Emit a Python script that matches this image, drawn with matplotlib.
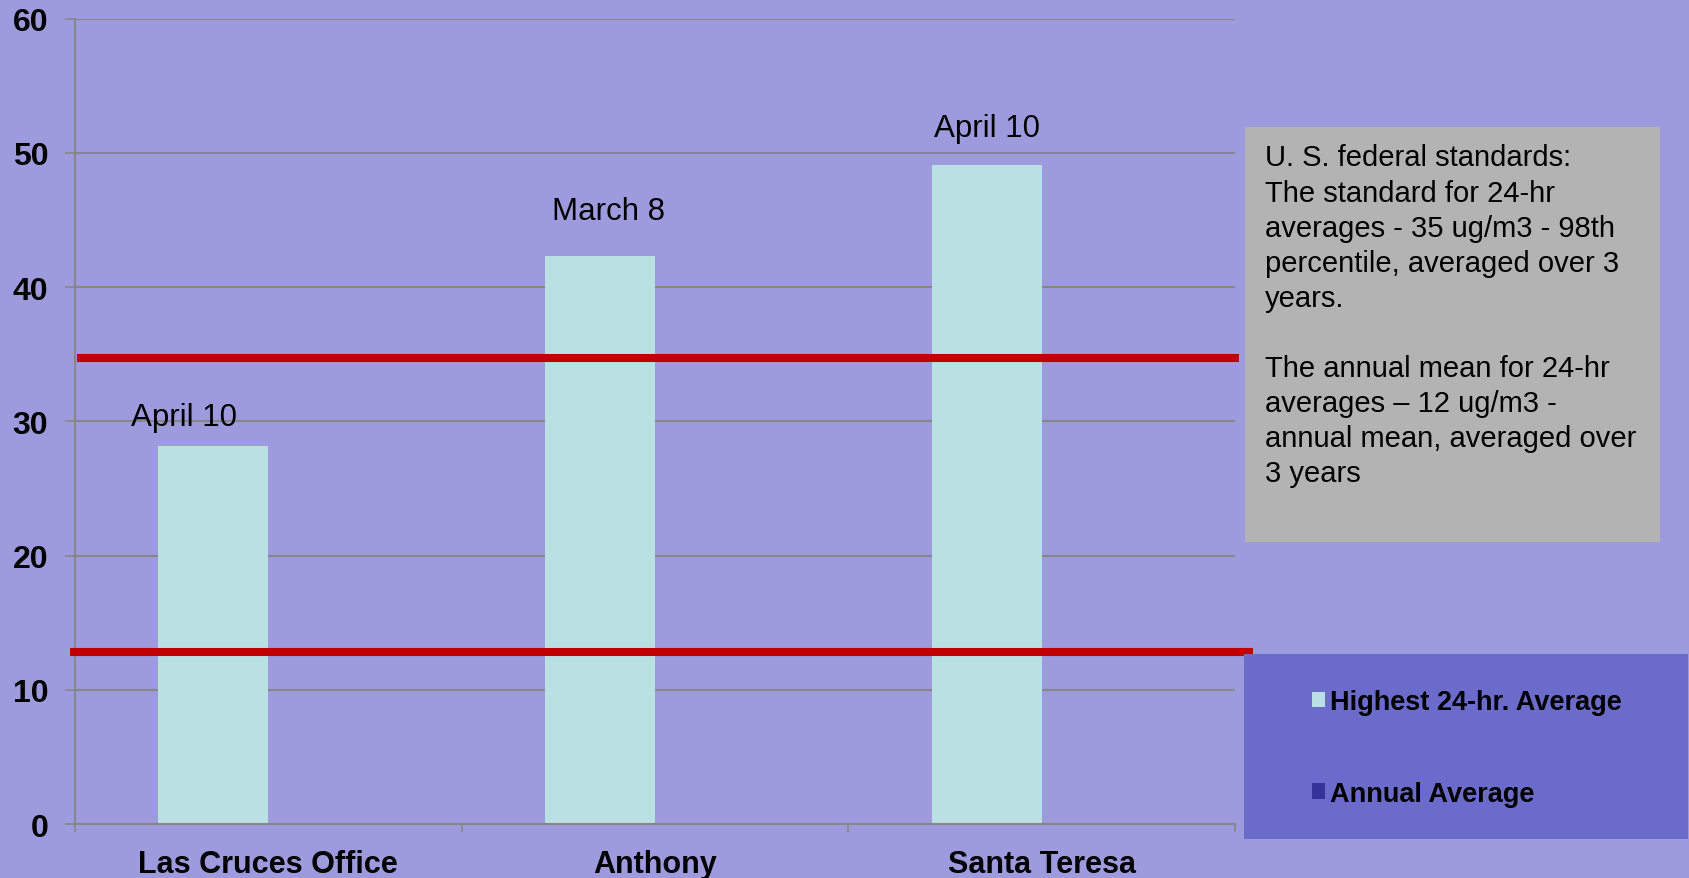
import matplotlib
matplotlib.use("Agg")
import matplotlib.pyplot as plt
from matplotlib.patches import Patch, Rectangle
import numpy as np

plt.rcParams["font.family"] = ["Liberation Sans", "DejaVu Sans"]

# ---- data ----
categories = ["Las Cruces Office", "Anthony", "Santa Teresa"]
highest_24hr = [28.2, 42.3, 49.1]
peak_dates = ["April 10", "March 8", "April 10"]
series_names = ["Highest 24-hr. Average", "Annual Average"]
standard_24hr_line = 34.7
standard_annual_line = 12.8
y_ticks = [0, 10, 20, 30, 40, 50, 60]
note_lines = [
    "U. S. federal standards:",
    "The standard for 24-hr",
    "averages - 35 ug/m3 - 98th",
    "percentile, averaged over 3",
    "years.",
    "",
    "The annual mean for 24-hr",
    "averages \u2013 12 ug/m3 -",
    "annual mean, averaged over",
    "3 years",
]

# ---- styles ----
BG = "#9D9BDD"
BAR = "#B9E0E2"
ANN = "#333399"
GRID = "#878787"
RED = "#C00000"
NOTE_BG = "#B3B3B3"
LEG_BG = "#6B6BCC"

W, H = 1690, 879
fig = plt.figure(figsize=(W / 100, H / 100), dpi=100)
fig.patch.set_facecolor(BG)
ax = fig.add_axes([75 / W, 1 - 825.3 / H, 1160 / W, 805.8 / H])
ax.set_facecolor(BG)

x = np.arange(len(categories))
w = 0.2845
ax.bar(x - w / 2, highest_24hr, w, color=BAR, zorder=2)

ax.set_xlim(-0.5, 2.5)
ax.set_ylim(0, 60)
ax.set_yticks(y_ticks)
ax.set_yticklabels([str(v) for v in y_ticks], fontsize=23, fontweight="bold")
ax.yaxis.grid(True, color=GRID, lw=1.5)
ax.set_axisbelow(True)
ax.tick_params(axis="y", length=7.2, width=1.2, color=GRID, pad=12, direction="out")

ax.set_xticks([-0.5, 0.5, 1.5, 2.5])
ax.set_xticklabels([])
ax.set_xticks(x, minor=True)
ax.set_xticklabels(categories, minor=True, fontsize=22, fontweight="bold")
ax.tick_params(axis="x", which="major", length=6, width=1.2, color=GRID)
ax.tick_params(axis="x", which="minor", length=0, pad=18)

for s in ["top", "right"]:
    ax.spines[s].set_visible(False)
for s in ["left", "bottom"]:
    ax.spines[s].set_color(GRID)
    ax.spines[s].set_linewidth(1.5)

# standard lines
ax.plot([-0.4948, 2.510], [standard_24hr_line] * 2, color=RED, lw=5.8,
        solid_capstyle="butt", clip_on=False, zorder=4)
ax.plot([-0.513, 2.546], [standard_annual_line] * 2, color=RED, lw=5.8,
        solid_capstyle="butt", clip_on=False, zorder=4)

# date labels
offsets = [(-21, 15), (6, 27), (0, 21)]
for xi, v, lbl, (dx, dy) in zip(x - w / 2, highest_24hr, peak_dates, offsets):
    ax.annotate(lbl, (xi, v), xytext=(dx, dy), textcoords="offset points",
                ha="center", va="baseline", fontsize=22.5)

# note box
fig.add_artist(Rectangle((1245 / W, 1 - 542.7 / H), 415 / W, 414.4 / H,
                         transform=fig.transFigure, facecolor=NOTE_BG,
                         edgecolor="none", zorder=1))
fig.text(1265 / W, 1 - 144.5 / H, "\n".join(note_lines), fontsize=21,
         va="top", ha="left", linespacing=1.32, zorder=2)

# legend box
fig.add_artist(Rectangle((1244 / W, 1 - 840 / H), 444 / W, 185 / H,
                         transform=fig.transFigure, facecolor=LEG_BG,
                         edgecolor="none", zorder=1))
handles = [Patch(facecolor=BAR, edgecolor="none"), Patch(facecolor=ANN, edgecolor="none")]
leg = fig.legend(handles, series_names, loc="center left",
                 bbox_to_anchor=(1298 / W, 1 - 749 / H), bbox_transform=fig.transFigure,
                 frameon=False, borderpad=0, handlelength=0.5, handleheight=0.5,
                 handletextpad=0.2, labelspacing=2.42,
                 prop={"size": 19.5, "weight": "bold"})
leg.set_zorder(3)

fig.savefig("out.png", dpi=100, facecolor=BG)
